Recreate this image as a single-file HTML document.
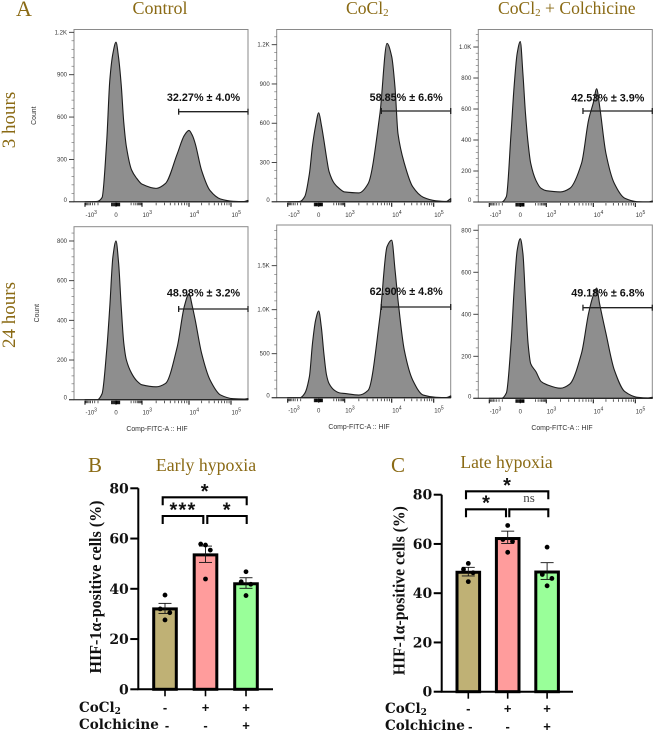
<!DOCTYPE html>
<html><head><meta charset="utf-8"><title>HIF-1α flow cytometry figure</title>
<style>
html,body{margin:0;padding:0;background:#fff;width:653px;height:733px;overflow:hidden}
svg{display:block;filter:blur(0.3px)}
.title{font-family:"Liberation Serif",serif;fill:#8a6a14}
.stat{font-family:"Liberation Sans",sans-serif;font-weight:700;font-size:10.8px;fill:#111}
.small{font-family:"Liberation Sans",sans-serif;font-size:6px;fill:#333}
.axtitle{font-family:"Liberation Sans",sans-serif;font-size:6.9px;fill:#333}
.tick{font-family:"DejaVu Serif",serif;font-weight:700;font-size:14px;fill:#111}
.rowlab{font-family:"DejaVu Serif",serif;font-weight:700;font-size:13.5px;fill:#111}
.ytitle{font-family:"Liberation Serif",serif;font-weight:700;font-size:16.5px;fill:#111}
.star{font-family:"Liberation Sans",sans-serif;font-weight:700;font-size:20px;fill:#111}
.sign{font-family:"Liberation Sans",sans-serif;font-weight:700;font-size:13px;fill:#111}
</style></head><body>
<svg id="fig" xmlns="http://www.w3.org/2000/svg" width="653" height="733" viewBox="0 0 653 733">
<rect width="653" height="733" fill="#fff"/>
<text class="title" x="16" y="16" font-size="22">A</text>
<text class="title" x="160" y="14" font-size="18" text-anchor="middle">Control</text>
<text class="title" x="346" y="14" font-size="17.6">CoCl<tspan font-size="11" dy="2">2</tspan></text>
<text class="title" x="498" y="14" font-size="17.6">CoCl<tspan font-size="11" dy="2">2</tspan><tspan dy="-2"> + Colchicine</tspan></text>
<text class="title" font-size="19" text-anchor="middle" transform="translate(15,120) rotate(-90)">3 hours</text>
<text class="title" font-size="19" text-anchor="middle" transform="translate(15,315) rotate(-90)">24 hours</text>
<text class="title" x="88" y="472" font-size="21">B</text>
<text class="title" x="206" y="471" font-size="17.8" text-anchor="middle">Early hypoxia</text>
<text class="title" x="391" y="472" font-size="21">C</text>
<text class="title" x="506.5" y="468" font-size="17.6" text-anchor="middle">Late hypoxia</text>
<text class="rowlab" x="79" y="712">CoCl<tspan font-size="9" dy="2">2</tspan></text>
<text class="rowlab" x="79" y="729">Colchicine</text>
<text class="rowlab" x="385" y="713">CoCl<tspan font-size="9" dy="2">2</tspan></text>
<text class="rowlab" x="385" y="730">Colchicine</text>
<g id="hist"></g><g id="bars"></g>
</svg>
<script>
// ---------- Histogram data (x bins on the flow-cytometry axis: -1 = -10^3, 0 = 0, 1 = 10^3, 2 = 10^4, 3 = 10^5)
const histBins = [-1,-0.6,-0.45,-0.3,-0.2,-0.1,0,0.1,0.2,0.3,0.4,0.6,0.8,1,1.3,1.5,1.75,1.9,2,2.08,2.15,2.3,2.5,2.75,3.05,3.3,3.4];
const countsControl3h = [0,3,30,430,860,1050,1130,1020,830,560,390,225,165,125,95,130,340,470,505,470,410,222,80,20,4,2,10];
const countsCocl3h = [0,3,40,215,430,580,680,590,470,340,230,140,100,75,68,140,675,1210,1110,870,520,295,115,35,8,3,25];
const countsColch3h = [0,0,35,440,745,960,1035,830,570,380,250,140,88,73,65,88,250,530,640,730,620,315,120,24,2,1,6];
const countsControl24h = [0,0,30,250,470,720,800,690,470,285,200,133,95,75,65,82,267,470,533,470,400,234,100,24,5,3,6];
const countsCocl24h = [0,0,50,240,620,880,985,805,500,260,160,85,55,48,30,85,920,1715,1790,1450,1110,540,200,30,5,2,20];
const countsColch24h = [0,0,25,260,515,705,760,690,470,260,165,127,80,66,48,68,215,405,490,525,450,310,135,32,5,2,5];
const yTicks1200 = [0,300,600,900,1200];
const yLabels1200 = ['0','300','600','900','1.2K'];
const yTicks1000 = [0,200,400,600,800,1000];
const yLabels1000 = ['0','200','400','600','800','1.0K'];
const yTicks800 = [0,200,400,600,800];
const yLabels800 = ['0','200','400','600','800'];
const yTicks1500 = [0,500,1000,1500];
const yLabels1500 = ['0','500','1.0K','1.5K'];
const xTickChannels = [-1,0,1,2,3];
const xTickBases = ['-10','0','10','10','10'];
const xTickExps = ['3','','3','4','5'];
const gateStartChannel = 1.78;

// ---------- Bar chart data
const barCategories = ['Control','CoCl2','CoCl2 + Colchicine'];
const cocl2Signs = ['-','+','+'];
const colchicineSigns = ['-','-','+'];
const yTicksBar = [0,20,40,60,80];
const earlyMeans = [32,53.5,42];
const earlyErrUpper = [34.2,57,44.4];
const earlyErrLower = [30.2,50.5,40.2];
const earlyPoints1 = [37.5,32,30.5,27.6];
const earlyPoints2 = [57.4,57.8,55.4,43.9];
const earlyPoints3 = [46.8,42.8,41.8,37.3];
const lateMeans = [48.5,62.2,48.6];
const lateErrUpper = [50.5,65.2,52.4];
const lateErrLower = [47,60.2,45.6];
const latePoints1 = [52.1,49.7,48.3,44.7];
const latePoints2 = [67.5,61.8,61,56.6];
const latePoints3 = [58.7,47.6,46,43];
const pointJitter = [0,-1,1,0];

const NS = 'http://www.w3.org/2000/svg';
function mk(parent, tag, attrs, txt){
  const e = document.createElementNS(NS, tag);
  for (const k in attrs) e.setAttribute(k, attrs[k]);
  if (txt !== undefined) e.textContent = txt;
  parent.appendChild(e);
  return e;
}
// Channel -> panel pixel offset (biexponential axis)
const axisKnots = [[-1,11],[0,42],[1,68],[2,115],[3,157],[3.4,174]];
function channelToPx(c){
  for (let i=1;i<axisKnots.length;i++){
    const a=axisKnots[i-1], b=axisKnots[i];
    if (c<=b[0]) return a[1]+(c-a[0])*(b[1]-a[1])/(b[0]-a[0]);
  }
  return 174;
}
// Monotone cubic path through the projected points
function smoothPath(pts){
  const n=pts.length, dx=[], m=[], t=[];
  for(let i=0;i<n-1;i++){ dx[i]=pts[i+1][0]-pts[i][0]; m[i]=(pts[i+1][1]-pts[i][1])/dx[i]; }
  t[0]=m[0]; t[n-1]=m[n-2];
  for(let i=1;i<n-1;i++){
    if(m[i-1]*m[i]<=0) t[i]=0;
    else t[i]=2*m[i-1]*m[i]/(m[i-1]+m[i]);
  }
  let d='';
  for(let i=0;i<n-1;i++){
    const h=dx[i]/3;
    d+=' C'+(pts[i][0]+h).toFixed(2)+' '+(pts[i][1]+t[i]*h).toFixed(2)+' '+(pts[i+1][0]-h).toFixed(2)+' '+(pts[i+1][1]-t[i+1]*h).toFixed(2)+' '+pts[i+1][0].toFixed(2)+' '+pts[i+1][1].toFixed(2);
  }
  return d;
}
function drawHistogram(root, cfg){
  const g = mk(root,'g',{});
  
  
  const L=cfg.left, W=174, T=cfg.top, B=cfg.zero;
  const xS = c => L+channelToPx(c);
  const yS = v => B-(v/cfg.yMax)*(B-T);
  const frame = mk(g,'rect',{x:L,y:T,width:W,height:B-T,fill:'#fff',stroke:'#8a8a8a','stroke-width':1});
  
  
  const pts = histBins.map((c,i)=>[xS(c),yS(cfg.counts[i])]);
  const d = 'M'+pts[0][0].toFixed(2)+' '+B+' L'+pts[0][0].toFixed(2)+' '+pts[0][1].toFixed(2)+smoothPath(pts)+' L'+pts[pts.length-1][0].toFixed(2)+' '+B+' Z';
  const area = mk(g,'path',{d:d,fill:'#8e8e8e',stroke:'#1c1c1c','stroke-width':1.1,'stroke-linejoin':'round'});
  
  
  const base = mk(g,'line',{x1:L-5,x2:L+W,y1:B,y2:B,stroke:'#222','stroke-width':1});
  
  
  // y ticks
  const step = cfg.yTicks[1]-cfg.yTicks[0];
  const yAxis = mk(g,'g',{});
  
  
  cfg.yTicks.forEach((t,i)=>{
    const y=yS(t);
    mk(yAxis,'line',{x1:L-5,x2:L,y1:y,y2:y,stroke:'#333','stroke-width':0.9});
    const lab = mk(yAxis,'text',{x:L-7,y:y+(i==0?0:2),'text-anchor':'end',class:'small'},cfg.yLabels[i]);
    
    
    for(let m=1;m<5;m++){
      const v=t+m*step/5;
      if(v<=cfg.yMax) mk(yAxis,'line',{x1:L-2.5,x2:L,y1:yS(v),y2:yS(v),stroke:'#666','stroke-width':0.6});
    }
  });
  // x ticks
  const xAxis = mk(g,'g',{});
  
  
  const tickY=B+1;
  xTickChannels.forEach((c,i)=>{
    const x=xS(c);
    mk(xAxis,'line',{x1:x,x2:x,y1:tickY,y2:tickY+4,stroke:'#111','stroke-width':1.1});
    const isZero = xTickExps[i]==='';
    const lab = mk(xAxis,'text',{x:isZero?x:x+0.5,y:B+15,class:'small','text-anchor':isZero?'middle':'start'});
    
    
    mk(lab,'tspan',{},xTickBases[i]);
    if(!isZero) mk(lab,'tspan',{dy:-3,'font-size':5},xTickExps[i]);
  });
  const minor=[];
  for(let d0=1;d0<3;d0++) for(let m=2;m<10;m++) minor.push(d0+Math.log10(m));
  for(let m=2;m<10;m++){ minor.push(1+Math.log10(m/10)*0.6); minor.push(-(1+Math.log10(m/10)*0.6)); }
  for(let m=-4;m<=4;m++) minor.push(m*0.035);
  minor.forEach(c=>{
    const x=xS(c);
    const nearZero=Math.abs(c)<0.16;
    mk(xAxis,'line',{x1:x,x2:x,y1:tickY,y2:tickY+(nearZero?3.5:2.5),stroke:nearZero?'#000':'#333','stroke-width':nearZero?1:0.8});
  });
  // gate
  const gate = mk(g,'g',{});
  
  
  const gx=xS(gateStartChannel), gy=cfg.gateY;
  mk(gate,'line',{x1:gx,x2:L+W,y1:gy,y2:gy,stroke:'#222','stroke-width':1.3});
  mk(gate,'line',{x1:gx,x2:gx,y1:gy-3,y2:gy+3,stroke:'#222','stroke-width':1.3});
  mk(gate,'line',{x1:L+W,x2:L+W,y1:gy-3,y2:gy+3,stroke:'#222','stroke-width':1.3});
  const stat = mk(g,'text',{x:L+W-44.5,y:cfg.statY,'text-anchor':'middle',class:'stat'},cfg.stat);
  
  
  if(cfg.count){
    const cl = mk(g,'text',{class:'axtitle','text-anchor':'middle',transform:'translate('+cfg.count+','+(T+(B-T)*0.5)+') rotate(-90)'},'Count');
    
    
  }
  if(cfg.xtitle){
    const xt = mk(g,'text',{x:cfg.xtitle,y:B+31.5,class:'axtitle','text-anchor':'middle'},'Comp-FITC-A :: HIF');
    
    
  }
}
const histRoot = document.getElementById('hist');
drawHistogram(histRoot,{name:'histogram-control-3h',left:74,top:29.5,zero:201.8,yMax:1220,counts:countsControl3h,yTicks:yTicks1200,yLabels:yLabels1200,gateY:111.7,statY:101,stat:'32.27% ± 4.0%',count:36});
drawHistogram(histRoot,{name:'histogram-cocl2-3h',left:276.7,top:29.5,zero:201.8,yMax:1316,counts:countsCocl3h,yTicks:yTicks1200,yLabels:yLabels1200,gateY:111,statY:101,stat:'58.85% ± 6.6%'});
drawHistogram(histRoot,{name:'histogram-colchicine-3h',left:478.3,top:29.5,zero:202,yMax:1113,counts:countsColch3h,yTicks:yTicks1000,yLabels:yLabels1000,gateY:111,statY:101.5,stat:'42.53% ± 3.9%'});
drawHistogram(histRoot,{name:'histogram-control-24h',left:74,top:226.7,zero:399.7,yMax:872,counts:countsControl24h,yTicks:yTicks800,yLabels:yLabels800,gateY:309,statY:296.5,stat:'48.98% ± 3.2%',count:39,xtitle:157});
drawHistogram(histRoot,{name:'histogram-cocl2-24h',left:276.7,top:225,zero:397.7,yMax:1962,counts:countsCocl24h,yTicks:yTicks1500,yLabels:yLabels1500,gateY:307,statY:295,stat:'62.90% ± 4.8%',xtitle:359});
drawHistogram(histRoot,{name:'histogram-colchicine-24h',left:478.3,top:225,zero:398.3,yMax:825,counts:countsColch24h,yTicks:yTicks800,yLabels:yLabels800,gateY:307.7,statY:296.5,stat:'49.18% ± 6.8%',xtitle:562});

// ---------- Bars
const barFills = ['#bfb175','#ff9c9c','#99ff99'];
function drawBars(root,cfg){
  const g = mk(root,'g',{});
  
  
  const yS = v => cfg.y0-(v/80)*(cfg.y0-cfg.y80);
  const xC = i => cfg.c0+i*cfg.step;
  barCategories.forEach((c,i)=>{
    const x=xC(i);
    const bar = mk(g,'rect',{x:x-11.3,y:yS(cfg.means[i]),width:22.6,height:cfg.y0-yS(cfg.means[i]),fill:barFills[i],stroke:'#000','stroke-width':3});
    
    
    const err = mk(g,'g',{stroke:'#111','stroke-width':0.9});
    
    
    const u=yS(cfg.upper[i]), l=yS(cfg.lower[i]);
    mk(err,'line',{x1:x,x2:x,y1:u,y2:l});
    mk(err,'line',{x1:x-6.5,x2:x+6.5,y1:u,y2:u});
    mk(err,'line',{x1:x-6.5,x2:x+6.5,y1:l,y2:l});
    cfg.points[i].forEach((v,j)=>{
      const dot = mk(g,'circle',{cx:x+pointJitter[j]*4.8,cy:yS(v),r:2.4,fill:'#000'});
      
      
    });
    mk(g,'line',{x1:x,x2:x,y1:cfg.y0,y2:cfg.y0+7,stroke:'#000','stroke-width':1.6});
    const s1 = mk(g,'text',{x:x,y:cfg.row1,class:'sign','text-anchor':'middle'},cocl2Signs[i]);
    
    
    const s2 = mk(g,'text',{x:x+(i==0?2:0),y:cfg.row2,class:'sign','text-anchor':'middle'},colchicineSigns[i]);
    
    
  });
  const axes = mk(g,'path',{d:'M'+cfg.x0+' '+cfg.y80+' V'+cfg.y0+' H'+cfg.xEnd,fill:'none',stroke:'#000','stroke-width':2});
  
  
  yTicksBar.forEach(t=>{
    const y=yS(t);
    mk(g,'line',{x1:cfg.x0-8,x2:cfg.x0,y1:y,y2:y,stroke:'#000','stroke-width':2});
    const lab = mk(g,'text',{x:cfg.x0-9.5,y:y+5,class:'tick','text-anchor':'end'},String(t));
    
    
  });
  const yt = mk(g,'text',{class:'ytitle','text-anchor':'middle',textLength:cfg.ytLen,lengthAdjust:'spacingAndGlyphs',transform:'translate('+cfg.ytX+','+cfg.ytY+') rotate(-90)'},'HIF-1α-positive cells (%)');
  
  
  const sig = mk(g,'g',{fill:'none',stroke:'#000','stroke-width':2.1});
  
  
  cfg.brackets.forEach(b=>{
    mk(sig,'path',{d:'M'+b[0]+' '+(b[2]+8)+' V'+b[2]+' H'+b[1]+' V'+(b[2]+8)});
  });
  cfg.marks.forEach(m=>{
    const t = mk(g,'text',{x:m[0],y:m[1]+11.4,class:'star','text-anchor':'middle','letter-spacing':m[2].length>1?'1.2':'0'},m[2]);
    
    
  });
  if(cfg.ns){
    const t = mk(g,'text',{x:cfg.ns[0],y:cfg.ns[1]+4,'font-family':'Liberation Serif, serif','font-size':13,fill:'#444','text-anchor':'middle'},'ns');
    
    
  }
}
const barRoot = document.getElementById('bars');
drawBars(barRoot,{name:'early-hypoxia-chart',x0:138.3,xEnd:273,y0:689.3,y80:488.3,c0:165,step:40.5,means:earlyMeans,upper:earlyErrUpper,lower:earlyErrLower,points:[earlyPoints1,earlyPoints2,earlyPoints3],row1:712,row2:730,ytLen:173,ytX:101,ytY:587,
  brackets:[[162.7,246.7,497.3],[162.7,203.3,516],[207.3,246.7,516]],marks:[[204.7,486.7,'*'],[183,505,'***'],[226.7,505,'*']]});
drawBars(barRoot,{name:'late-hypoxia-chart',x0:441.7,xEnd:573,y0:691.7,y80:494.7,c0:468.3,step:39.4,means:lateMeans,upper:lateErrUpper,lower:lateErrLower,points:[latePoints1,latePoints2,latePoints3],row1:713,row2:731,ytLen:169,ytX:404.5,ytY:590.7,
  brackets:[[466,548.3,491.3],[466,506,509.3],[509.3,548.3,509.3]],marks:[[507,480.7,'*'],[486,498,'*']],ns:[529,498]});
</script>
</body></html>
